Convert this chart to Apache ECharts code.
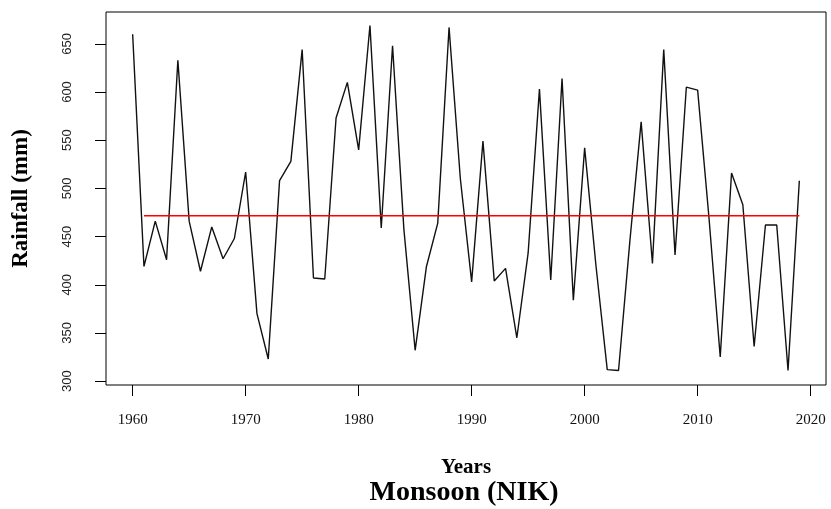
<!DOCTYPE html>
<html>
<head>
<meta charset="utf-8">
<script src="https://cdn.jsdelivr.net/npm/echarts@6/dist/echarts.min.js"></script>
<style>
  html, body { margin: 0; padding: 0; background: #fff; }
  #chart { width: 831px; height: 509px; }
</style>
</head>
<body>
<div id="chart"></div>
<script>
// Monsoon rainfall series, 1960-2019
const years = [];
for (let y = 1960; y <= 2019; y++) years.push(y);

const rainfall = [
  660, 419, 466, 426, 633, 466, 414, 460, 427, 448,
  517, 370, 323, 508, 528, 644, 407, 406, 573, 610,
  540, 669, 459, 648, 458, 332, 419, 464, 667, 510,
  403, 549, 404, 417, 345, 433, 603, 405, 614, 384,
  542, 420, 312, 311, 445, 569, 422, 644, 431, 605,
  602, 470, 325, 516, 483, 336, 462, 462, 311, 508
];

// Reference level drawn across the record
const meanYears = [1961, 2019];
const meanLevel = 471.5;

const xTicks = [1960, 1970, 1980, 1990, 2000, 2010, 2020];
const yTicks = [300, 350, 400, 450, 500, 550, 600, 650];

const chart = echarts.init(document.getElementById('chart'), null, { renderer: 'canvas' });

chart.setOption({
  animation: false,
  backgroundColor: '#ffffff',
  grid: {
    left: 106, right: 5, top: 12, bottom: 124,
    containLabel: false,
    outerBoundsMode: 'none',
    show: true,
    borderColor: '#000',
    borderWidth: 1,
    backgroundColor: 'transparent'
  },
  xAxis: {
    type: 'value',
    min: 1957.64,
    max: 2021.36,
    splitLine: { show: false },
    axisLine: { show: false },
    axisTick: {
      show: true, inside: false, length: 11,
      customValues: xTicks,
      lineStyle: { color: '#000', width: 1 }
    },
    axisLabel: {
      customValues: xTicks,
      margin: 28,
      color: '#111',
      fontFamily: 'Liberation Serif',
      fontSize: 15,
      formatter: v => String(v)
    },
    name: 'Years',
    nameLocation: 'middle',
    nameGap: 72,
    nameTextStyle: {
      fontFamily: 'Liberation Serif',
      fontWeight: 'bold',
      fontSize: 21,
      color: '#000'
    }
  },
  yAxis: {
    type: 'value',
    min: 296,
    max: 683,
    splitLine: { show: false },
    axisLine: { show: false },
    axisTick: {
      show: true, inside: false, length: 11,
      customValues: yTicks,
      lineStyle: { color: '#000', width: 1 }
    },
    axisLabel: {
      customValues: yTicks,
      rotate: 90,
      margin: 32,
      color: '#222',
      fontFamily: 'Liberation Sans',
      fontSize: 13,
      formatter: v => String(v)
    },
    name: 'Rainfall (mm)',
    nameLocation: 'middle',
    nameRotate: 90,
    nameGap: 73,
    nameTextStyle: {
      fontFamily: 'Liberation Serif',
      fontWeight: 'bold',
      fontSize: 23,
      color: '#000'
    }
  },
  graphic: [{
    type: 'text',
    x: 464,
    y: 493,
    style: {
      text: 'Monsoon (NIK)',
      fontFamily: 'Liberation Serif',
      fontWeight: 'bold',
      fontSize: 28,
      fill: '#000',
      textAlign: 'center',
      textVerticalAlign: 'middle'
    }
  }],
  series: [
    {
      type: 'line',
      data: years.map((y, i) => [y, rainfall[i]]),
      showSymbol: false,
      lineStyle: { color: '#111', width: 1.4 },
      z: 2
    },
    {
      type: 'line',
      data: meanYears.map(y => [y, meanLevel]),
      showSymbol: false,
      lineStyle: { color: '#ff0000', width: 1.5 },
      z: 3
    }
  ]
});
</script>
</body>
</html>
